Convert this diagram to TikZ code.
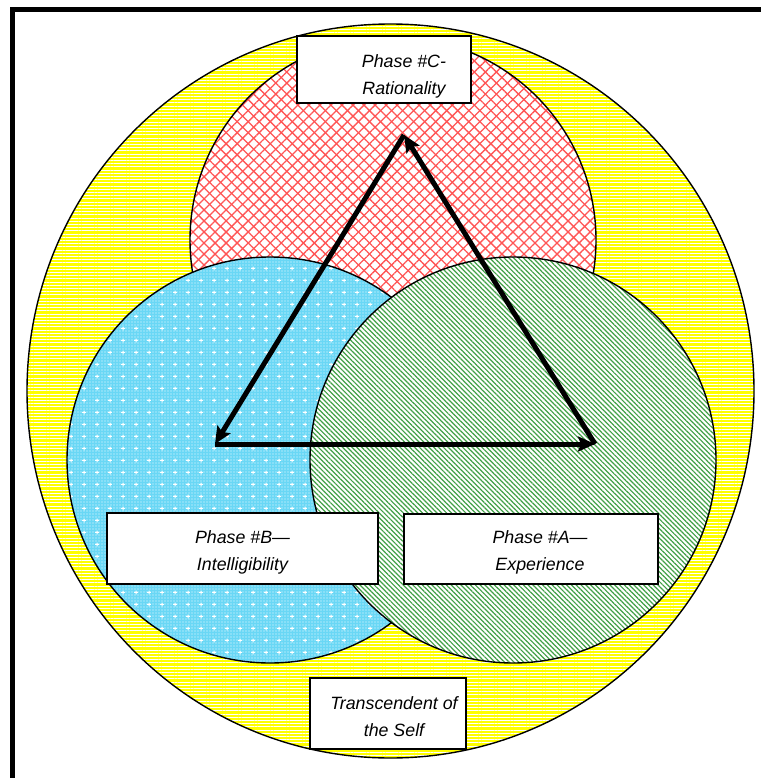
\documentclass[tikz,border=0pt]{standalone}
\usepackage{fontspec}
\setmainfont{Liberation Sans}
\usetikzlibrary{patterns.meta, arrows.meta}

% colours of the four regions
\definecolor{sunyellow}{RGB}{255,255,0}
\definecolor{hatchred}{RGB}{255,85,85}
\definecolor{skyblue}{RGB}{105,215,245}
\definecolor{hatchgreen}{RGB}{65,160,70}

% small plus marks scattered over the blue disc
\pgfdeclarepattern{
  name=plusgrid,
  type=uncolored,
  bottom left={\pgfpoint{0pt}{0pt}},
  top right={\pgfpoint{13pt}{12pt}},
  tile size={\pgfpoint{13pt}{12pt}},
  code={
    \pgfsetlinewidth{1pt}
    \pgfpathmoveto{\pgfpoint{4.5pt}{6pt}}\pgfpathlineto{\pgfpoint{8.5pt}{6pt}}
    \pgfpathmoveto{\pgfpoint{6.5pt}{4pt}}\pgfpathlineto{\pgfpoint{6.5pt}{8pt}}
    \pgfusepath{stroke}
  }
}

\tikzset{
  outline/.style={draw=black, line width=1.4pt},
  label box/.style={draw=black, line width=1.2pt, fill=white, rectangle,
    inner sep=0pt},
  label text/.style={inner sep=0pt, align=center,
    font=\fontsize{17.8}{27}\selectfont\itshape},
  cycle arrow/.style={line width=5pt, line cap=butt,
    -{Stealth[length=17pt, width=15pt, inset=3pt]}},
}

\begin{document}
\begin{tikzpicture}[x=1pt, y=-1pt]
  \useasboundingbox (0,0) rectangle (761,778);
  \fill[white] (0,0) rectangle (761,778);

  % heavy frame along the top and left
  \draw[line width=5pt, line join=miter] (12.5,778) -- (12.5,9.5) -- (761,9.5);

  % outer disc: the transcendent self
  \fill[sunyellow] (390.5,391) ellipse [x radius=363.5pt, y radius=367pt];
  \fill[pattern={Lines[angle=0, distance=3.2pt, line width=0.9pt]}, pattern color=white]
    (390.5,391) ellipse [x radius=363.5pt, y radius=367pt];
  \draw[outline] (390.5,391) ellipse [x radius=363.5pt, y radius=367pt];

  % rationality disc
  \fill[white] (393,240) circle (203pt);
  \fill[pattern={Lines[angle=45, distance=7.8pt, line width=1.3pt]}, pattern color=hatchred]
    (393,240) circle (203pt);
  \fill[pattern={Lines[angle=-45, distance=7.8pt, line width=1.3pt]}, pattern color=hatchred]
    (393,240) circle (203pt);
  \draw[outline] (393,240) circle (203pt);

  % intelligibility disc
  \fill[skyblue] (270,460) circle (203pt);
  \fill[pattern={Dots[distance=3pt, radius=0.6pt]}, pattern color=white!90!skyblue]
    (270,460) circle (203pt);
  \fill[pattern=plusgrid, pattern color=white] (270,460) circle (203pt);
  \draw[outline] (270,460) circle (203pt);

  % experience disc
  \fill[white] (513,460) circle (203pt);
  \fill[pattern={Lines[angle=-45, distance=3.4pt, line width=1.2pt]}, pattern color=hatchgreen]
    (513,460) circle (203pt);
  \draw[outline] (513,460) circle (203pt);

  % corners of the cycle
  \coordinate (apex) at (404,135);
  \coordinate (left) at (215,444);
  \coordinate (right) at (595,444);

  \draw[cycle arrow] (left) -- (right);
  \draw[cycle arrow] (right) -- (apex);
  \draw[cycle arrow] (apex) -- (left);

  % label boxes and their texts
  \node[label box, minimum width=174pt, minimum height=67pt] (boxC) at (384,69.5) {};
  \node[label text] (phaseC) at (404,76) {Phase \#C-\\Rationality};

  \node[label box, minimum width=271pt, minimum height=71pt] (boxB) at (242.5,548.5) {};
  \node[label text] (phaseB) at (242.5,552) {Phase \#B—\\Intelligibility};

  \node[label box, minimum width=254pt, minimum height=70pt] (boxA) at (531,549) {};
  \node[label text] (phaseA) at (540,552) {Phase \#A—\\Experience};

  \node[label box, minimum width=156pt, minimum height=71pt] (boxSelf) at (388,713.5) {};
  \node[label text] (self) at (394,717) {Transcendent of\\the Self};
\end{tikzpicture}
\end{document}
